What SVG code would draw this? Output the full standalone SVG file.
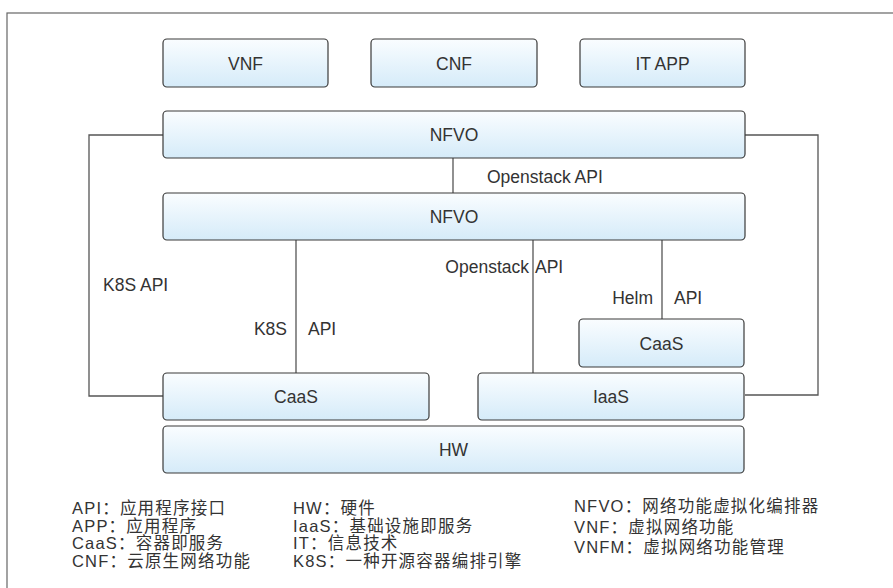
<svg xmlns="http://www.w3.org/2000/svg" width="893" height="588" viewBox="0 0 893 588">
<defs>
<linearGradient id="g" x1="0" y1="0" x2="0" y2="1">
<stop offset="0" stop-color="#fafdff"/>
<stop offset="1" stop-color="#d5ebf9"/>
</linearGradient>
<style>
.box{fill:url(#g);stroke:#3a3a3a;stroke-width:1.2}
.lbl{font-family:"Liberation Sans",Arial,sans-serif;font-size:17.5px;fill:#333;text-anchor:middle}
.t{font-family:"Liberation Sans",Arial,sans-serif;font-size:17.5px;fill:#333}
.lg{font-family:"Liberation Sans","Noto Sans CJK SC",sans-serif;font-size:16.5px;fill:#333;letter-spacing:1.2px}
.c{fill:none;stroke:#555;stroke-width:1.3}
</style>
</defs>
<rect x="0" y="0" width="893" height="588" fill="#fff"/>
<rect x="7" y="13" width="900" height="600" fill="none" stroke="#666" stroke-width="1.2"/>
<g id="connectors">
<path class="c" d="M453 158V193"/>
<path class="c" d="M163 135H89V396H163"/>
<path class="c" d="M745 135H818V395H745"/>
<path class="c" d="M296 240V373"/>
<path class="c" d="M533 240V373"/>
<path class="c" d="M662 240V319"/>
<text class="t" x="487" y="183">Openstack API</text>
<text class="t" x="103" y="291">K8S API</text>
<text class="t" x="287" y="335" text-anchor="end">K8S</text>
<text class="t" x="308" y="335">API</text>
<text class="t" x="529" y="273" text-anchor="end">Openstack</text>
<text class="t" x="535" y="273">API</text>
<text class="t" x="653" y="304" text-anchor="end">Helm</text>
<text class="t" x="674" y="304">API</text>
</g>
<g id="vnf"><rect class="box" x="163" y="39" width="165" height="48" rx="4"/><text class="lbl" x="245.5" y="69.5">VNF</text></g>
<g id="cnf"><rect class="box" x="371" y="39" width="166" height="48" rx="4"/><text class="lbl" x="454" y="69.5">CNF</text></g>
<g id="itapp"><rect class="box" x="580" y="39" width="165" height="48" rx="4"/><text class="lbl" x="662.5" y="69.5">IT APP</text></g>
<g id="nfvo1"><rect class="box" x="163" y="111" width="582" height="47" rx="4"/><text class="lbl" x="454" y="140.5">NFVO</text></g>
<g id="nfvo2"><rect class="box" x="163" y="193" width="582" height="47" rx="4"/><text class="lbl" x="454" y="222.5">NFVO</text></g>
<g id="caas2"><rect class="box" x="579" y="319" width="165" height="48" rx="4"/><text class="lbl" x="661.5" y="349.5">CaaS</text></g>
<g id="caas1"><rect class="box" x="163" y="373" width="266" height="47" rx="4"/><text class="lbl" x="296" y="402.5">CaaS</text></g>
<g id="iaas"><rect class="box" x="478" y="373" width="266" height="47" rx="4"/><text class="lbl" x="611" y="402.5">IaaS</text></g>
<g id="hw"><rect class="box" x="163" y="426" width="581" height="47" rx="4"/><text class="lbl" x="453.5" y="455.5">HW</text></g>
<g id="legend">
<text class="lg" x="72" y="514">API：应用程序接口</text>
<text class="lg" x="72" y="531.5">APP：应用程序</text>
<text class="lg" x="72" y="549">CaaS：容器即服务</text>
<text class="lg" x="72" y="566.5">CNF：云原生网络功能</text>
<text class="lg" x="293" y="514">HW：硬件</text>
<text class="lg" x="293" y="531.5">IaaS：基础设施即服务</text>
<text class="lg" x="293" y="549">IT：信息技术</text>
<text class="lg" x="293" y="566.5">K8S：一种开源容器编排引擎</text>
<text class="lg" x="574" y="512">NFVO：网络功能虚拟化编排器</text>
<text class="lg" x="574" y="533">VNF：虚拟网络功能</text>
<text class="lg" x="574" y="553">VNFM：虚拟网络功能管理</text>
</g>
</svg>
